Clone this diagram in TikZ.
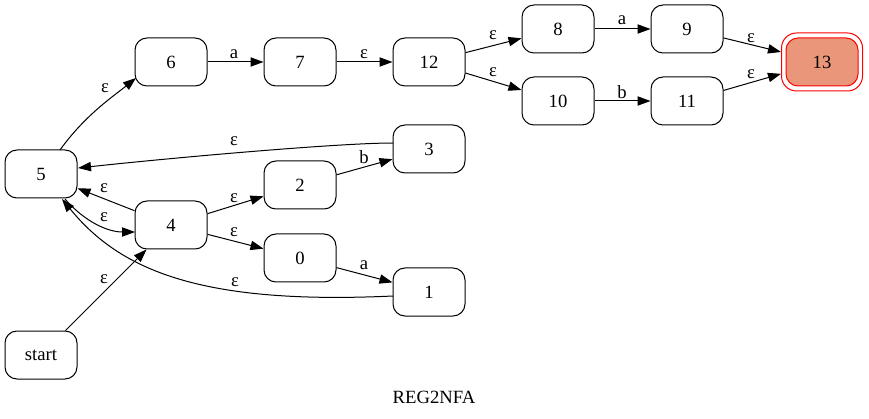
\documentclass[tikz,border=0pt]{standalone}
\usepackage{fontspec}
\setmainfont{Liberation Serif}
\usetikzlibrary{arrows.meta}
\definecolor{salmonfill}{HTML}{E9967A}
\tikzset{
  x=1pt,y=1pt,
  state/.style={draw, line width=1pt, rounded corners=12pt, minimum width=72pt, minimum height=48pt, inner sep=0pt, font=\fontsize{18.67}{22}\selectfont},
  finalouter/.style={draw=red, line width=1pt, rounded corners=15pt, minimum width=81pt, minimum height=58pt, inner sep=0pt},
  finalinner/.style={state, draw=red, fill=salmonfill},
  edge/.style={line width=1pt, -{Triangle[length=13pt,width=9.3pt]}},
  lbl/.style={font=\fontsize{18.67}{22}\selectfont, inner sep=0pt},
}
\begin{document}
\begin{tikzpicture}
\useasboundingbox (0,0) rectangle (869,-419);
% nodes
\node[state] (n5) at (41,-174) {5};
\node[state] (n4) at (171,-225) {4};
\node[state] (nstart) at (41,-355) {start};
\node[state] (n6) at (171,-62) {6};
\node[state] (n7) at (300,-62) {7};
\node[state] (n12) at (429,-62) {12};
\node[state] (n8) at (558,-29) {8};
\node[state] (n9) at (687,-29) {9};
\node[state] (n10) at (558,-101) {10};
\node[state] (n11) at (687,-101) {11};
\node[finalouter] (n13) at (822,-62) {};
\node[finalinner] (n13i) at (822,-62) {13};
\node[state] (n3) at (429,-149) {3};
\node[state] (n2) at (300,-185) {2};
\node[state] (n0) at (300,-258) {0};
\node[state] (n1) at (429,-292) {1};
\node[lbl] (title) at (434,-397) {REG2NFA};
% coordinates for curve ends
\coordinate (c56s) at (60,-150);
\coordinate (c56e) at (136,-78);
\coordinate (c35s) at (393,-143);
\coordinate (c35e) at (78,-168);
\coordinate (c15s) at (393,-296);
\coordinate (c15e) at (62,-199);
\coordinate (c54s) at (65,-199);
\coordinate (c54e) at (135,-232);
% straight edges
\draw[edge] (nstart) -- (n4);
\draw[edge] (n4) -- (n5);
\draw[edge] (n6) -- (n7);
\draw[edge] (n7) -- (n12);
\draw[edge] (n12) -- (n8);
\draw[edge] (n12) -- (n10);
\draw[edge] (n8) -- (n9);
\draw[edge] (n10) -- (n11);
\draw[edge] (n9) -- (n13);
\draw[edge] (n11) -- (n13);
\draw[edge] (n4) -- (n2);
\draw[edge] (n2) -- (n3);
\draw[edge] (n4) -- (n0);
\draw[edge] (n0) -- (n1);
% curved edges
\draw[edge] (c56s) .. controls (85,-115) and (115,-95) .. (c56e);
\draw[edge] (c35s) .. controls (340,-143) and (180,-157) .. (c35e);
\draw[edge] (c15s) .. controls (200,-305) and (120,-270) .. (c15e);
\draw[edge] (c54s) .. controls (85,-222) and (108,-232) .. (c54e);
% labels
\node[lbl] (l1) at (104,-279) {ε};
\node[lbl] (l2) at (104,-188) {ε};
\node[lbl] (l3) at (234,-54) {a};
\node[lbl] (l4) at (364,-54) {ε};
\node[lbl] (l5) at (493,-35) {ε};
\node[lbl] (l6) at (493,-72) {ε};
\node[lbl] (l7) at (622,-20) {a};
\node[lbl] (l8) at (622,-92) {b};
\node[lbl] (l9) at (751,-38) {ε};
\node[lbl] (l10) at (751,-74) {ε};
\node[lbl] (l11) at (234,-198) {ε};
\node[lbl] (l12) at (364,-157) {b};
\node[lbl] (l13) at (234,-232) {ε};
\node[lbl] (l14) at (364,-265) {a};
\node[lbl] (l15) at (105,-88) {ε};
\node[lbl] (l16) at (234,-141) {ε};
\node[lbl] (l17) at (235,-282) {ε};
\node[lbl] (l18) at (104,-217) {ε};
\end{tikzpicture}
\end{document}
